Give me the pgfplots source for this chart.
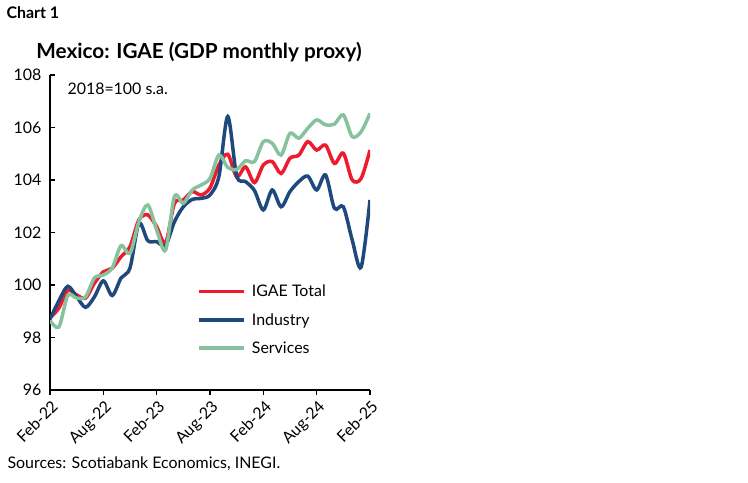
\documentclass[border=0pt]{standalone}
\usepackage{pgfplots}
\pgfplotsset{compat=1.18}
\usepackage{fontspec}
\setmainfont{Lato}
\definecolor{igaered}{RGB}{236,28,46}
\definecolor{indblue}{RGB}{31,73,125}
\definecolor{srvgreen}{RGB}{134,195,157}
\newcommand{\txt}{\fontsize{16}{19}\selectfont}
\begin{document}
\begin{tikzpicture}
\useasboundingbox (0,0) rectangle (748bp,483bp);
\node[anchor=west, font=\fontsize{16}{19}\selectfont\bfseries] at (3bp,470bp) {Chart 1};
\node[font=\fontsize{20.8}{24}\selectfont\bfseries] at (199bp,431bp) {Mexico: IGAE (GDP monthly proxy)};
\node[anchor=west, font=\txt] at (4bp,19bp) {Sources: Scotiabank Economics, INEGI.};
\begin{axis}[
  at={(50bp,93bp)}, anchor=south west,
  scale only axis, width=320bp, height=315bp,
  xmin=0, xmax=36, ymin=96, ymax=108,
  axis x line*=bottom, axis y line*=left,
  axis line style={black, line width=1.3bp, -},
  tick style={black, line width=1.1bp},
  major tick length=5bp,
  xtick style={yshift=-5bp},
  xtick={0,6,...,36},
  xticklabels={Feb-22,Aug-22,Feb-23,Aug-23,Feb-24,Aug-24,Feb-25},
  ytick={96,98,...,108},
  /pgf/number format/assume math mode=true,
  ticklabel style={font=\txt},
  xticklabel style={rotate=45, anchor=north east, inner sep=1bp, yshift=-6bp, xshift=-5bp},
  yticklabel style={xshift=-5bp},
  legend style={at={(0.46,0.34)}, anchor=north west, draw=none, fill=none,
    font=\txt, row sep=11bp, inner sep=0pt,
    nodes={inner xsep=6bp}},
  legend cell align=left,
  legend image code/.code={\draw[#1] (0bp,0bp) -- (45bp,0bp);},
  every axis plot/.append style={line width=3.5bp, smooth, no markers},
]
% IGAE Total
\addplot[color=igaered] coordinates {
(0,98.75) (1,99.12) (2,99.8) (3,99.62) (4,99.5) (5,100.07) (6,100.5) (7,100.64)
(8,101.08) (9,101.46) (10,102.48) (11,102.67) (12,102.22) (13,101.6) (14,103.11)
(15,103.24) (16,103.56) (17,103.43) (18,103.7) (19,104.57) (20,104.98) (21,104.12)
(22,104.5) (23,103.9) (24,104.57) (25,104.7) (26,104.25) (27,104.83) (28,104.95)
(29,105.46) (30,105.14) (31,105.33) (32,104.63) (33,105.02) (34,104.0) (35,104.06)
(36,105.14)};
% Industry
\addplot[color=indblue] coordinates {
(0,98.7) (1,99.4) (2,99.95) (3,99.55) (4,99.15) (5,99.55) (6,100.16) (7,99.6)
(8,100.27) (9,100.65) (10,102.35) (11,101.69) (12,101.65) (13,101.5) (14,102.41)
(15,102.98) (16,103.26) (17,103.3) (18,103.43) (19,104.13) (20,106.42) (21,104.16)
(22,103.94) (23,103.6) (24,102.86) (25,103.62) (26,102.98) (27,103.56) (28,103.94)
(29,104.15) (30,103.62) (31,104.19) (32,102.92) (33,102.98) (34,101.71) (35,100.68)
(36,103.24)};
% Services
\addplot[color=srvgreen] coordinates {
(0,98.65) (1,98.4) (2,99.6) (3,99.5) (4,99.55) (5,100.27) (6,100.38) (7,100.65)
(8,101.5) (9,101.2) (10,102.41) (11,103.05) (12,102.1) (13,101.33) (14,103.37)
(15,103.11) (16,103.62) (17,103.81) (18,104.06) (19,104.95) (20,104.48) (21,104.4)
(22,104.73) (23,104.7) (24,105.46) (25,105.4) (26,104.95) (27,105.78) (28,105.59)
(29,105.97) (30,106.29) (31,106.1) (32,106.13) (33,106.48) (34,105.65) (35,105.84)
(36,106.54)};
\legend{IGAE Total, Industry, Services}
\end{axis}
\node[anchor=west, font=\txt] at (64bp,394bp) {2018=100 s.a.};
\end{tikzpicture}
\end{document}
